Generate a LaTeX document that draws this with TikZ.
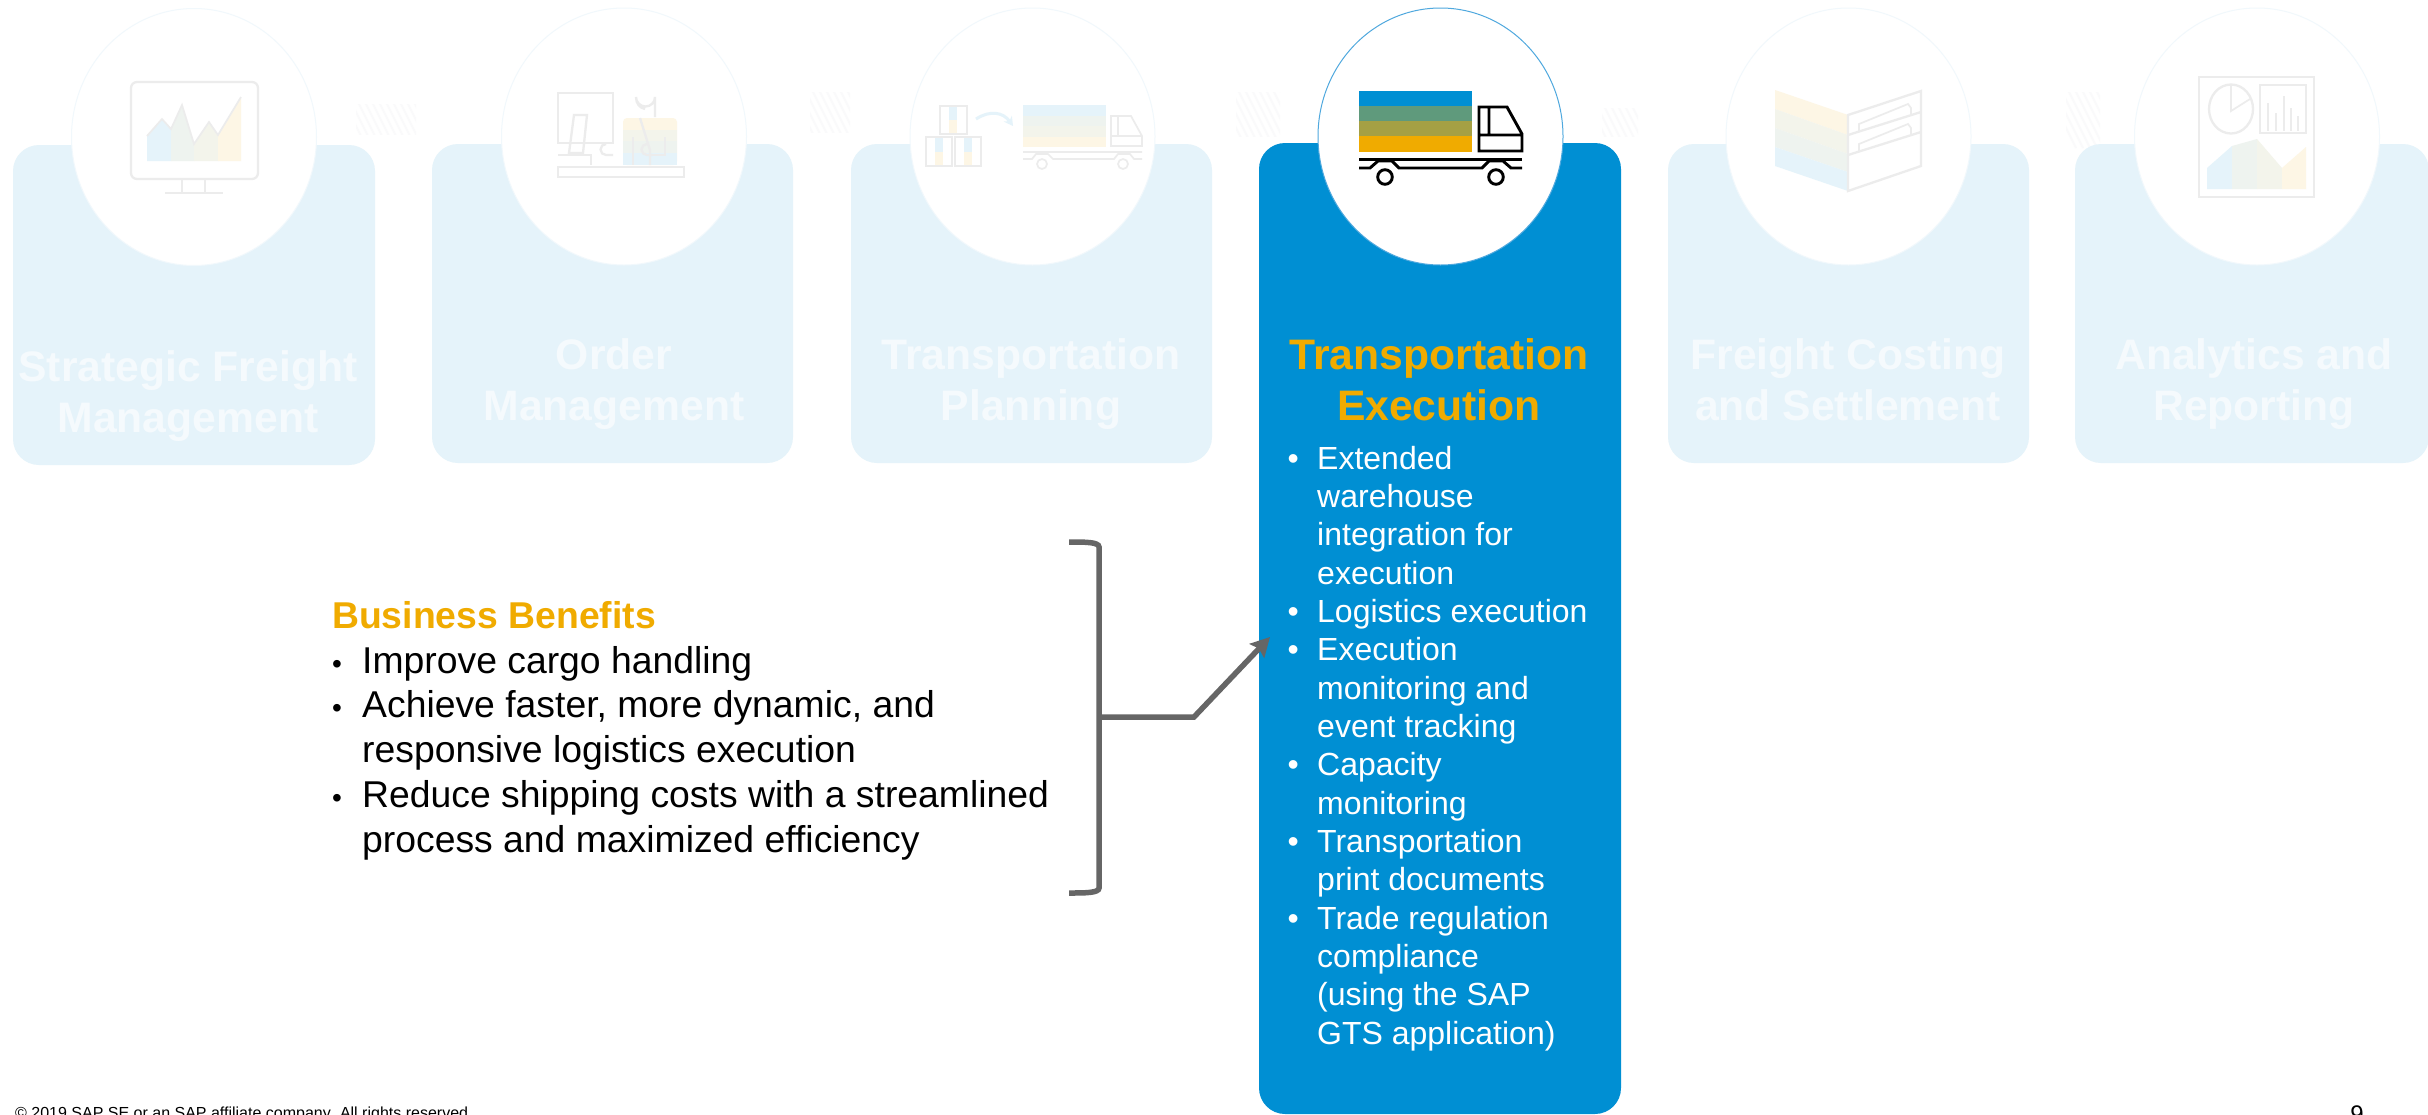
\documentclass[tikz,border=0pt]{standalone}
\usepackage{fontspec}
\setmainfont{Liberation Sans}
\usetikzlibrary{shapes.geometric,arrows.meta}
\definecolor{paleblue}{HTML}{E5F3FA}
\definecolor{sapblue}{HTML}{008FD3}
\definecolor{saporange}{HTML}{F0AB00}
\definecolor{bandB}{HTML}{EEF3EF}
\definecolor{bandC}{HTML}{F3F4EB}
\definecolor{bandD}{HTML}{FDF6E5}
\definecolor{fadeline}{HTML}{ECECEC}
\definecolor{ringpale}{HTML}{F1F8FC}
\definecolor{ringblue}{HTML}{4FA8DE}
\definecolor{arrowgrey}{HTML}{666666}
\definecolor{hatchgrey}{HTML}{FAFAFB}
\definecolor{truckA}{HTML}{5F9A7C}
\definecolor{truckB}{HTML}{A5A044}
\definecolor{fadetitle}{HTML}{F5FAFD}
\newcommand{\fl}[1]{\rule{0pt}{#1}}
\newcommand{\hang}[1]{\hspace*{#1}}
\newcommand{\bul}[1]{\makebox[#1][l]{•}}
\newcommand{\minibul}[1]{\makebox[#1][l]{\fontsize{28}{28}\selectfont•}}
\tikzset{
  x=1pt,y=-1pt,
  stagebox/.style={rectangle,rounded corners=26pt,fill=paleblue,draw=none,inner sep=0,minimum width=361pt,minimum height=319pt},
  activebox/.style={rectangle,rounded corners=26pt,fill=sapblue,draw=none,inner sep=0,minimum width=362pt,minimum height=971pt},
  ring/.style={ellipse,fill=white,draw=ringpale,line width=1pt,inner sep=0,minimum width=245pt,minimum height=257pt},
  activering/.style={ring,draw=ringblue},
  stagetitle/.style={anchor=north,inner sep=0,align=center,text=fadetitle,font=\fontsize{42.67}{51.2}\selectfont\bfseries},
  activetitle/.style={stagetitle,text=saporange},
  bodylist/.style={anchor=north west,inner sep=0,align=left,text=white,font=\fontsize{32}{38.33}\selectfont},
  benefits/.style={anchor=north west,inner sep=0,align=left,text=black,font=\fontsize{37.33}{44.8}\selectfont},
  bracketline/.style={draw=arrowgrey,line width=5.5pt},
  fadeicon/.style={draw=fadeline,line width=2.3pt,fill=none},
  fadethin/.style={draw=fadeline,line width=1.7pt,fill=none},
  truckline/.style={draw=black,line width=2.9pt,fill=none},
  hatch/.style={draw=hatchgrey,line width=2pt},
}
\begin{document}
\begin{tikzpicture}
\useasboundingbox (0,0) rectangle (2428,1114);
\clip (0,0) rectangle (2428,1114);
\fill[white] (0,0) rectangle (2428,1114);

% faint separators between the stages
\foreach \hx/\hy/\hw/\hh in {356/104/60/30,810/92/40/40,1236/92/44/44,1602/108/36/28,2066/92/34/56}{
  \begin{scope}
    \clip (\hx,\hy) rectangle ++(\hw,\hh);
    \foreach \k in {0,7,...,84}{
      \draw[hatch] (\hx+\k-20,\hy-4) -- ++(30,60);
    }
  \end{scope}
}

% stage boxes
\node[stagebox,minimum width=362pt,minimum height=320pt] (box1) at (194,305) {};
\node[stagebox] (box2) at (612.5,303.5) {};
\node[stagebox] (box3) at (1031.5,303.5) {};
\node[activebox] (box4) at (1440,628.5) {};
\node[stagebox] (box5) at (1848.5,303.5) {};
\node[stagebox,minimum width=354pt] (box6) at (2252,303.5) {};

% rings
\node[ring] (ring1) at (194,137) {};
\node[ring] (ring2) at (624,136.5) {};
\node[ring] (ring3) at (1032.5,136.5) {};
\node[activering] (ring4) at (1440.5,136.5) {};
\node[ring] (ring5) at (1848.5,136.5) {};
\node[ring] (ring6) at (2257,136.5) {};

% titles
\node[stagetitle] (title1) at (188,341) {\fl{40pt}Strategic Freight\\Management};
\node[stagetitle] (title2) at (614,329) {\fl{40pt}Order\\Management};
\node[stagetitle] (title3) at (1031,329) {\fl{40pt}Transportation\\Planning};
\node[activetitle] (title4) at (1439,329) {\fl{40pt}Transportation\\Execution};
\node[stagetitle] (title5) at (1848,329) {\fl{40pt}Freight Costing\\and Settlement};
\node[stagetitle] (title6) at (2254,329) {\fl{40pt}Analytics and\\Reporting};

% active stage list
\node[bodylist] (list4) at (1287.5,439) {\fl{30pt}\bul{29.5pt}Extended\\
\hang{29.5pt}warehouse\\
\hang{29.5pt}integration for\\
\hang{29.5pt}execution\\
\bul{29.5pt}Logistics execution\\
\bul{29.5pt}Execution\\
\hang{29.5pt}monitoring and\\
\hang{29.5pt}event tracking\\
\bul{29.5pt}Capacity\\
\hang{29.5pt}monitoring\\
\bul{29.5pt}Transportation\\
\hang{29.5pt}print documents\\
\bul{29.5pt}Trade regulation\\
\hang{29.5pt}compliance\\
\hang{29.5pt}(using the SAP\\
\hang{29.5pt}GTS application)};

% benefits
\node[benefits] (benefit) at (332,593) {\fl{35pt}\textcolor{saporange}{\textbf{Business Benefits}}\\
\minibul{30pt}Improve cargo handling\\
\minibul{30pt}Achieve faster, more dynamic, and\\
\hang{30pt}responsive logistics execution\\
\minibul{30pt}Reduce shipping costs with a streamlined\\
\hang{30pt}process and maximized efficiency};

% bracket and arrow
\coordinate (brtop) at (1069,542);
\coordinate (brbot) at (1069,893);
\coordinate (brmid) at (1099,717);
\coordinate (elbow) at (1194,717);
\coordinate (tip) at (1270,637);
\draw[bracketline] (brtop) .. controls (1085,542) and (1099,542) .. (1099,547) -- (1099,888) .. controls (1099,893) and (1085,893) .. (brbot);
\draw[bracketline,-{Stealth[length=19pt,width=20pt,inset=3pt]}] (brmid) -- (elbow) -- (tip);

% footer
\node[anchor=base west,inner sep=0,font=\fontsize{16}{19}\selectfont] (footer) at (15,1118.5) {© 2019 SAP SE or an SAP affiliate company. All rights reserved.};
\node[anchor=base,inner sep=0,font=\fontsize{24}{28}\selectfont] (pageno) at (2357,1122) {9};

% icon 1: monitor with chart
\fill[paleblue] (147,136) -- (162,119) -- (171,129) -- (171,161) -- (147,161) -- cycle;
\fill[bandB] (171,129) -- (182,105) -- (194,144) -- (194,161) -- (171,161) -- cycle;
\fill[bandC] (194,144) -- (209,122) -- (218,135) -- (218,161) -- (194,161) -- cycle;
\fill[bandD] (218,135) -- (241,97) -- (241,161) -- (218,161) -- cycle;
\draw[fadethin] (147,136) -- (162,119) -- (171,129) -- (182,105) -- (194,144) -- (209,122) -- (218,135) -- (241,97);
\draw[fadeicon,rounded corners=6pt] (131,82) rectangle (258,179);
\draw[fadeicon] (182,179) -- (182,192) (205,179) -- (205,192) (165,193) -- (223,193);

% icon 2: person at desk
\fill[bandD,rounded corners=4pt] (623,165) |- (677,118) -- (677,165) -- cycle;
\fill[bandC] (623,130) rectangle (677,141);
\fill[bandB] (623,141) rectangle (677,153);
\fill[paleblue] (623,153) rectangle (677,165);
\draw[fadeicon] (558,93) rectangle (613,143);
\draw[fadeicon] (574,115) -- (587,115) -- (583,153) -- (569,153) -- cycle;
\draw[fadeicon] (558,155) -- (591,155) -- (591,165);
\draw[fadeicon] (558,167) rectangle (684,177);
\draw[fadeicon] (613,155) -- (606,155) arc[start angle=90,end angle=270,radius=5.5];
\draw[fadeicon] (652,155) -- (647,155) arc[start angle=90,end angle=270,radius=5.5];
\draw[fadeicon] (640,118) -- (650,150) -- (650,165);
\draw[fadeicon] (650,155) -- (665,155) -- (665,137);
\draw[fadeicon] (633,137) -- (633,165);
\draw[fadeicon] (655,117) -- (655,97) arc[start angle=0,end angle=180,radius=9.5] .. controls (636,104) and (640,108) .. (645,109);

% icon 3: boxes and truck
\fill[paleblue] (1023,105) rectangle (1106,116);
\fill[bandB] (1023,116) rectangle (1106,126);
\fill[bandC] (1023,126) rectangle (1106,137);
\fill[bandD] (1023,137) rectangle (1106,147);
\fill[paleblue] (949,106) rectangle (957,120);
\fill[bandD] (949,120) rectangle (957,134);
\fill[paleblue] (935,137) rectangle (943,152);
\fill[bandD] (935,152) rectangle (943,166);
\fill[paleblue] (964,137) rectangle (972,152);
\fill[bandD] (964,152) rectangle (972,166);
\draw[fadethin] (940,106) rectangle (967,134) (926,137) rectangle (952,166) (955,137) rectangle (981,166);
\draw[paleblue,line width=3pt,-{Stealth[length=9pt,width=10pt]}] (976,119) .. controls (990,110) and (1003,112) .. (1013,126);
\draw[fadethin] (1111,116) -- (1131,116) -- (1142,136) -- (1142,146) -- (1111,146) -- cycle (1111,136) -- (1142,136) (1118,116) -- (1118,136);
\draw[fadethin] (1023,152) -- (1142,152) (1023,159) -- (1032,159) -- (1036,154) -- (1048,154) -- (1053,159) -- (1114,159) -- (1118,154) -- (1130,154) -- (1134,159) -- (1142,159);
\draw[fadethin] (1042,164) circle[radius=5] (1123,164) circle[radius=5];

% icon 4: active truck
\fill[sapblue] (1359,91) rectangle (1472,106);
\fill[truckA] (1359,106) rectangle (1472,121);
\fill[truckB] (1359,121) rectangle (1472,136);
\fill[saporange] (1359,136) rectangle (1472,152);
\draw[truckline] (1479,107) -- (1507,107) -- (1522,134) -- (1522,151) -- (1479,151) -- cycle (1479,135) -- (1522,135) (1489,107) -- (1489,135);
\draw[truckline] (1359,159.5) -- (1522,159.5);
\draw[truckline] (1359,168) -- (1370,168) -- (1378,161) -- (1392,161) -- (1399,168) -- (1482,168) -- (1489,161) -- (1503,161) -- (1511,168) -- (1522,168);
\draw[truckline,fill=white] (1385,177) circle[radius=7.3] (1496,177) circle[radius=7.3];

% icon 5: open folder of sheets
\fill[bandD] (1775,90) -- (1848,115) -- (1848,135) -- (1775,109) -- cycle;
\fill[bandC] (1775,109) -- (1848,135) -- (1848,154) -- (1775,128) -- cycle;
\fill[bandB] (1775,128) -- (1848,154) -- (1848,172) -- (1775,147) -- cycle;
\fill[paleblue] (1775,147) -- (1848,172) -- (1848,191) -- (1775,166) -- cycle;
\draw[fadeicon] (1848,115) -- (1921,91) -- (1921,166) -- (1848,191) -- cycle;
\draw[fadeicon] (1848,135) -- (1921,112) (1848,155) -- (1921,132);
\draw[fadethin] (1859,131) -- (1859,124) -- (1908,104) -- (1911,108) -- (1911,114);
\draw[fadethin] (1859,151) -- (1859,144) -- (1908,124) -- (1911,128) -- (1911,134);

% icon 6: report with charts
\fill[paleblue] (2207,168) -- (2232,146) -- (2232,189) -- (2207,189) -- cycle;
\fill[bandB] (2232,146) -- (2257,139) -- (2257,189) -- (2232,189) -- cycle;
\fill[bandC] (2257,139) -- (2282,168) -- (2282,189) -- (2257,189) -- cycle;
\fill[bandD] (2282,168) -- (2306,147) -- (2306,189) -- (2282,189) -- cycle;
\draw[fadeicon] (2199,77) rectangle (2314,197);
\draw[fadeicon] (2231,109) ellipse[x radius=22,y radius=24.5];
\draw[fadethin] (2231,85) -- (2231,111) -- (2250,99);
\draw[fadeicon] (2260,85) rectangle (2306,133);
\draw[fadethin] (2268,103) -- (2268,131) (2276,113) -- (2276,131) (2284,96) -- (2284,131) (2291,108) -- (2291,131) (2298,116) -- (2298,131);
\end{tikzpicture}
\end{document}
